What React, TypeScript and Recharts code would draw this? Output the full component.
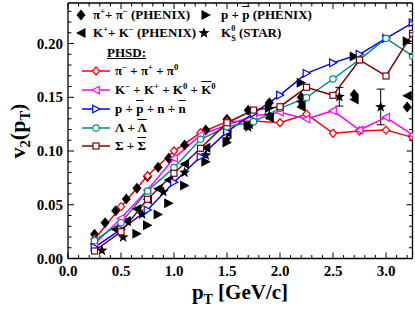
import React from 'react';
import { ComposedChart, Line, Scatter, XAxis, YAxis, ErrorBar } from 'recharts';

// ---------- data ----------
const phsdPt = [0.25, 0.5, 0.75, 1.0, 1.25, 1.5, 1.75, 2.0, 2.25, 2.5, 2.75, 3.0, 3.25];
const phsdPion = [0.0179, 0.0482, 0.077, 0.1, 0.117, 0.1273, 0.128, 0.1263, 0.1344, 0.1165, 0.1186, 0.1195, 0.1127];
const phsdKaon = [0.0135, 0.0374, 0.0637, 0.0932, 0.1149, 0.1242, 0.1326, 0.136, 0.1298, 0.1375, 0.1195, 0.1313, 0.1149];
const phsdProton = [0.0104, 0.0272, 0.0451, 0.0709, 0.0947, 0.118, 0.135, 0.152, 0.1723, 0.182, 0.19, 0.2048, 0.2193];
const phsdLambda = [0.0166, 0.0333, 0.0628, 0.0845, 0.1109, 0.1226, 0.1273, 0.1397, 0.1496, 0.167, 0.185, 0.2048, 0.1884];
const phsdSigma = [0.007, 0.0249, 0.0551, 0.0793, 0.1025, 0.1263, 0.1381, 0.1412, 0.1593, 0.1518, 0.1847, 0.1698, 0.2095];

const phenixPionPt = [0.25, 0.35, 0.45, 0.55, 0.65, 0.75, 0.85, 0.95, 1.1, 1.3, 1.5, 1.7, 1.9, 2.2, 2.7, 3.2];
const phenixPionV2 = [0.0225, 0.0333, 0.0445, 0.0553, 0.0653, 0.0761, 0.0848, 0.0932, 0.1056, 0.1195, 0.1295, 0.138, 0.145, 0.15, 0.1525, 0.141];

const phenixKaonPt = [0.45, 0.55, 0.65, 0.75, 0.85, 0.95, 1.1, 1.3, 1.5, 1.7, 1.9, 2.2, 2.7, 3.2];
const phenixKaonV2 = [0.027, 0.035, 0.046, 0.055, 0.065, 0.073, 0.088, 0.103, 0.117, 0.125, 0.131, 0.141, 0.148, 0.1515];

const phenixProtonPt = [0.65, 0.75, 0.85, 0.95, 1.1, 1.3, 1.5, 1.7, 1.9, 2.2, 2.7, 3.2];
const phenixProtonV2 = [0.023, 0.031, 0.041, 0.0515, 0.068, 0.09, 0.108, 0.124, 0.14, 0.1636, 0.188, 0.202];

const starK0Pt = [0.32, 0.52, 0.7, 0.9, 1.1, 1.3, 1.5, 1.7, 1.9, 2.2, 2.56, 2.95];
const starK0V2 = [0.0075, 0.0198, 0.041, 0.062, 0.08, 0.096, 0.111, 0.122, 0.133, 0.145, 0.1505, 0.141];
const starK0Err = [0, 0, 0, 0, 0, 0, 0, 0, 0, 0, 0.0087, 0.0166];

const xTicks = [0, 0.1, 0.2, 0.3, 0.4, 0.5, 0.6, 0.7, 0.8, 0.9, 1.0, 1.1, 1.2, 1.3, 1.4, 1.5, 1.6, 1.7, 1.8, 1.9, 2.0, 2.1, 2.2, 2.3, 2.4, 2.5, 2.6, 2.7, 2.8, 2.9, 3.0, 3.1, 3.2];
const xMajor = [0, 0.5, 1.0, 1.5, 2.0, 2.5, 3.0];
const yTicks = [0, 0.01, 0.02, 0.03, 0.04, 0.05, 0.06, 0.07, 0.08, 0.09, 0.1, 0.11, 0.12, 0.13, 0.14, 0.15, 0.16, 0.17, 0.18, 0.19, 0.2, 0.21, 0.22, 0.23];
const yMajor = [0, 0.05, 0.1, 0.15, 0.2];

const zip = (xs: number[], ys: number[], es?: number[]) =>
  xs.map((x, i) => (es ? { x, y: ys[i], err: es[i] } : { x, y: ys[i] }));

const FONT = '"Liberation Serif", "Times New Roman", serif';
const RED = '#ff0000';
const MAG = '#ff00ff';
const BLUE = '#0000ff';
const TEAL = '#008b8b';
const BROWN = '#800000';

// ---------- marker shapes ----------
const isIn = (arr: number[], v: number) => arr.some((m) => Math.abs(m - v) < 1e-6);

function FilledMarker({ kind, cx, cy }: { kind: string; cx: number; cy: number }) {
  if (cx == null || cy == null) return null;
  if (kind === 'diamond') {
    return <polygon points={`${cx},${cy - 5.5} ${cx + 4.5},${cy} ${cx},${cy + 5.5} ${cx - 4.5},${cy}`} fill="#000" />;
  }
  if (kind === 'right') {
    return <polygon points={`${cx - 4.5},${cy - 5} ${cx + 5},${cy} ${cx - 4.5},${cy + 5}`} fill="#000" />;
  }
  if (kind === 'left') {
    return <polygon points={`${cx + 4.5},${cy - 5} ${cx - 5},${cy} ${cx + 4.5},${cy + 5}`} fill="#000" />;
  }
  const pts: string[] = [];
  for (let i = 0; i < 10; i++) {
    const r = i % 2 === 0 ? 5.8 : 2.4;
    const a = -Math.PI / 2 + (i * Math.PI) / 5;
    pts.push(`${cx + r * Math.cos(a)},${cy + r * Math.sin(a)}`);
  }
  return <polygon points={pts.join(' ')} fill="#000" />;
}

function OpenMarker({ kind, cx, cy, color }: { kind: string; cx: number; cy: number; color: string }) {
  if (cx == null || cy == null) return null;
  const common = { fill: '#fff', stroke: color, strokeWidth: 1.2 };
  if (kind === 'diamond') return <polygon points={`${cx},${cy - 4} ${cx + 3.6},${cy} ${cx},${cy + 4} ${cx - 3.6},${cy}`} {...common} />;
  if (kind === 'left') return <polygon points={`${cx + 3.3},${cy - 3.8} ${cx - 3.8},${cy} ${cx + 3.3},${cy + 3.8}`} {...common} />;
  if (kind === 'right') return <polygon points={`${cx - 3.3},${cy - 3.8} ${cx + 3.8},${cy} ${cx - 3.3},${cy + 3.8}`} {...common} />;
  if (kind === 'circle') return <circle cx={cx} cy={cy} r={3.2} {...common} />;
  return <rect x={cx - 3} y={cy - 3} width={6} height={6} {...common} />;
}

// ---------- ticks ----------
const tickFont = { fontFamily: FONT, fontWeight: 'bold' as const, fontSize: 15, fill: '#000' };

const BottomTick = (p: any) => {
  const v = p.payload.value;
  const major = isIn(xMajor, v);
  return (
    <g>
      <line x1={p.x} x2={p.x} y1={p.y} y2={p.y - (major ? 6 : 3.5)} stroke="#000" strokeWidth={1} />
      {major && (
        <text x={p.x} y={p.y + 17.5} textAnchor="middle" {...tickFont}>
          {v.toFixed(1)}
        </text>
      )}
    </g>
  );
};
const TopTick = (p: any) => {
  const v = p.payload.value;
  const major = isIn(xMajor, v);
  return <line x1={p.x} x2={p.x} y1={p.y} y2={p.y + (major ? 6 : 3.5)} stroke="#000" strokeWidth={1} />;
};
const LeftTick = (p: any) => {
  const v = p.payload.value;
  const major = isIn(yMajor, v);
  return (
    <g>
      <line x1={p.x} x2={p.x + (major ? 6 : 3.5)} y1={p.y} y2={p.y} stroke="#000" strokeWidth={1} />
      {major && (
        <text x={p.x - 5} y={p.y + 5} textAnchor="end" {...tickFont}>
          {v.toFixed(2)}
        </text>
      )}
    </g>
  );
};
const RightTick = (p: any) => {
  const v = p.payload.value;
  const major = isIn(yMajor, v);
  return <line x1={p.x} x2={p.x - (major ? 6 : 3.5)} y1={p.y} y2={p.y} stroke="#000" strokeWidth={1} />;
};

// ---------- text helpers ----------
const Sup = ({ children }: any) => (
  <span style={{ fontSize: '0.66em', position: 'relative', top: '-0.55em' }}>{children}</span>
);
const Sub = ({ children }: any) => (
  <span style={{ fontSize: '0.66em', position: 'relative', top: '0.35em' }}>{children}</span>
);
const Bar = ({ children }: any) => <span style={{ textDecoration: 'overline' }}>{children}</span>;

const LegendSvgFilled = ({ kind, x, y }: { kind: string; x: number; y: number }) => (
  <svg style={{ position: 'absolute', left: x - 7, top: y - 7 }} width={14} height={14}>
    <FilledMarker kind={kind} cx={7} cy={7} />
  </svg>
);
const LegendSvgLine = ({ kind, color, y }: { kind: string; color: string; y: number }) => (
  <svg style={{ position: 'absolute', left: 80, top: y - 6 }} width={32} height={12}>
    <line x1={2} x2={30} y1={6} y2={6} stroke={color} strokeWidth={1.5} />
    <OpenMarker kind={kind} cx={16} cy={6} color={color} />
  </svg>
);

const Row = ({ x, y, children, size = 13 }: any) => (
  <div
    style={{
      position: 'absolute',
      left: x,
      top: y - 9,
      height: 18,
      lineHeight: '18px',
      whiteSpace: 'nowrap',
      fontFamily: FONT,
      fontWeight: 'bold',
      fontSize: size,
      color: '#000',
    }}
  >
    {children}
  </div>
);

export default function App() {
  const axisLine = { stroke: '#000', strokeWidth: 1.3 };
  return (
    <div style={{ position: 'absolute', left: 0, top: 0, width: 415, height: 310, background: '#fff' }}>
      <ComposedChart width={415} height={310} margin={{ top: 2, right: 1.5, bottom: 0, left: 0 }}>
        <XAxis
          xAxisId="b"
          type="number"
          dataKey="x"
          domain={[0, 3.25]}
          ticks={xTicks}
          interval={0}
          tickSize={0}
          tickMargin={0}
          height={51.5}
          tick={BottomTick}
          tickLine={false}
          axisLine={axisLine}
          allowDataOverflow
        />
        <XAxis
          xAxisId="t"
          orientation="top"
          type="number"
          dataKey="x"
          domain={[0, 3.25]}
          ticks={xTicks}
          interval={0}
          tickSize={0}
          tickMargin={0}
          height={1}
          tick={TopTick}
          tickLine={false}
          axisLine={axisLine}
          allowDataOverflow
        />
        <YAxis
          yAxisId="l"
          type="number"
          dataKey="y"
          domain={[0, 0.2377]}
          ticks={yTicks}
          interval={0}
          tickSize={0}
          tickMargin={0}
          width={68}
          tick={LeftTick}
          tickLine={false}
          axisLine={axisLine}
          allowDataOverflow
        />
        <YAxis
          yAxisId="r"
          orientation="right"
          type="number"
          dataKey="y"
          domain={[0, 0.2377]}
          ticks={yTicks}
          interval={0}
          tickSize={0}
          tickMargin={0}
          width={1}
          tick={RightTick}
          tickLine={false}
          axisLine={axisLine}
          allowDataOverflow
        />

        <Scatter
          xAxisId="b"
          yAxisId="l"
          data={zip(phenixPionPt, phenixPionV2)}
          isAnimationActive={false}
          shape={(p: any) => <FilledMarker kind="diamond" cx={p.cx} cy={p.cy} />}
        />
        <Scatter
          xAxisId="b"
          yAxisId="l"
          data={zip(phenixKaonPt, phenixKaonV2)}
          isAnimationActive={false}
          shape={(p: any) => <FilledMarker kind="left" cx={p.cx} cy={p.cy} />}
        />
        <Scatter
          xAxisId="b"
          yAxisId="l"
          data={zip(phenixProtonPt, phenixProtonV2)}
          isAnimationActive={false}
          shape={(p: any) => <FilledMarker kind="right" cx={p.cx} cy={p.cy} />}
        />
        <Scatter
          xAxisId="b"
          yAxisId="l"
          data={zip(starK0Pt, starK0V2, starK0Err)}
          isAnimationActive={false}
          shape={(p: any) => <FilledMarker kind="star" cx={p.cx} cy={p.cy} />}
        >
          <ErrorBar dataKey="err" direction="y" width={4} stroke="#000" strokeWidth={1} />
        </Scatter>

        {[
          { vals: phsdPion, color: RED, kind: 'diamond' },
          { vals: phsdKaon, color: MAG, kind: 'left' },
          { vals: phsdProton, color: BLUE, kind: 'right' },
          { vals: phsdLambda, color: TEAL, kind: 'circle' },
          { vals: phsdSigma, color: BROWN, kind: 'square' },
        ].map((s) => (
          <Line
            key={s.color}
            xAxisId="b"
            yAxisId="l"
            data={zip(phsdPt, s.vals)}
            dataKey="y"
            stroke={s.color}
            strokeWidth={1.5}
            isAnimationActive={false}
            activeDot={false}
            dot={(p: any) => <OpenMarker key={p.index} kind={s.kind} cx={p.cx} cy={p.cy} color={s.color} />}
          />
        ))}
      </ComposedChart>

      {/* legend: experimental */}
      <LegendSvgFilled kind="diamond" x={81} y={15} />
      <Row x={93} y={15}>
        π<Sup>+</Sup>+ π<Sup>−</Sup> (PHENIX)
      </Row>
      <LegendSvgFilled kind="left" x={81} y={33} />
      <Row x={93} y={33}>
        K<Sup>+</Sup>+ K<Sup>−</Sup> (PHENIX)
      </Row>
      <LegendSvgFilled kind="right" x={206} y={15} />
      <Row x={221} y={15}>
        p + <Bar>p</Bar> (PHENIX)
      </Row>
      <LegendSvgFilled kind="star" x={204} y={33} />
      <Row x={221} y={33}>
        K
        <span style={{ fontSize: '0.62em', position: 'relative', top: '-0.75em' }}>0</span>
        <span style={{ fontSize: '0.62em', position: 'relative', top: '0.55em', marginLeft: '-0.5em' }}>S</span>
        {' '}(STAR)
      </Row>

      {/* legend: PHSD */}
      <Row x={107} y={53}>
        <span style={{ textDecoration: 'underline' }}>PHSD:</span>
      </Row>
      <LegendSvgLine kind="diamond" color={RED} y={71} />
      <Row x={115} y={71}>
        π<Sup>−</Sup> + π<Sup>+</Sup> + π<Sup>0</Sup>
      </Row>
      <LegendSvgLine kind="left" color={MAG} y={89.5} />
      <Row x={115} y={89.5}>
        K<Sup>−</Sup> + K<Sup>+</Sup> + K<Sup>0</Sup> + <Bar>K</Bar>
        <Sup>0</Sup>
      </Row>
      <LegendSvgLine kind="right" color={BLUE} y={108.5} />
      <Row x={115} y={108.5}>
        p + <Bar>p</Bar> + n + <Bar>n</Bar>
      </Row>
      <LegendSvgLine kind="circle" color={TEAL} y={127.5} />
      <Row x={115} y={127.5}>
        Λ + <Bar>Λ</Bar>
      </Row>
      <LegendSvgLine kind="square" color={BROWN} y={146} />
      <Row x={115} y={146}>
        Σ + <Bar>Σ</Bar>
      </Row>

      {/* axis titles */}
      <div
        style={{
          position: 'absolute',
          left: 140,
          width: 200,
          top: 280,
          textAlign: 'center',
          fontFamily: FONT,
          fontWeight: 'bold',
          fontSize: 21,
          lineHeight: '24px',
          whiteSpace: 'nowrap',
        }}
      >
        p<Sub>T</Sub> [GeV/c]
      </div>
      <div
        style={{
          position: 'absolute',
          left: 18 - 60,
          top: 131 - 12,
          width: 120,
          height: 24,
          textAlign: 'center',
          transform: 'rotate(-90deg)',
          fontFamily: FONT,
          fontWeight: 'bold',
          fontSize: 22,
          lineHeight: '24px',
          whiteSpace: 'nowrap',
        }}
      >
        v<Sub>2</Sub>(p<Sub>T</Sub>)
      </div>
    </div>
  );
}
